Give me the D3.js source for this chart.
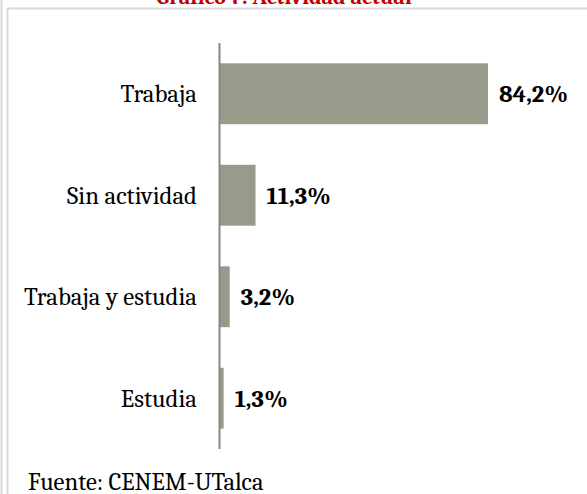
<!DOCTYPE html>
<html>
<head>
<meta charset="utf-8">
<script src="https://cdn.jsdelivr.net/npm/d3@7"></script>
<style>
  body { margin: 0; background: #fff; }
  svg { display: block; }
</style>
</head>
<body>
<div id="chart"></div>
<script>
// data
const categories = ["Trabaja", "Sin actividad", "Trabaja y estudia", "Estudia"];
const values = [84.2, 11.3, 3.2, 1.3];
const valueLabels = ["84,2%", "11,3%", "3,2%", "1,3%"];

const WIDTH = 587, HEIGHT = 494;
const SERIF = "Cambria, Caladea, 'DejaVu Serif', serif";

const svg = d3.select("#chart")
              .append("svg")
                .attr("width", WIDTH)
                .attr("height", HEIGHT);

// frame lines (document borders)
svg.append("line").attr("x1", 1.5).attr("x2", 1.5).attr("y1", 0).attr("y2", HEIGHT)
   .attr("stroke", "#d9d9d9").attr("stroke-width", 2);
svg.append("line").attr("x1", 7.5).attr("x2", 7.5).attr("y1", 8).attr("y2", HEIGHT)
   .attr("stroke", "#d9d9d9").attr("stroke-width", 2);
svg.append("line").attr("x1", 7).attr("x2", WIDTH).attr("y1", 8.5).attr("y2", 8.5)
   .attr("stroke", "#d9d9d9").attr("stroke-width", 2);

// title (cut off at the top, as in the reference)
svg.append("text")
   .attr("x", 284).attr("y", 4)
   .attr("text-anchor", "middle")
   .style("font-family", SERIF)
   .style("font-weight", "bold")
   .style("font-size", "22px")
   .style("fill", "#c00000")
   .text("Gráfico 7: Actividad actual");

// scales
const x = d3.scaleLinear()
            .domain([0, 100])
            .range([219.5, 538.4]);

const y = d3.scaleBand()
            .domain(categories)
            .range([43, 449])
            .paddingInner(0.4)
            .paddingOuter(0.2);

// bars
svg.selectAll("rect.bar")
   .data(values)
   .join("rect")
   .attr("class", "bar")
   .attr("x", x(0))
   .attr("y", (d, i) => y(categories[i]))
   .attr("width", d => x(d) - x(0))
   .attr("height", y.bandwidth())
   .attr("fill", "#9a9a8b");

// y axis line
svg.append("line")
   .attr("x1", x(0)).attr("x2", x(0))
   .attr("y1", 43).attr("y2", 449)
   .attr("stroke", "#878787")
   .attr("stroke-width", 2);

// category labels
svg.selectAll("text.cat")
   .data(categories)
   .join("text")
   .attr("class", "cat")
   .attr("x", 197)
   .attr("y", d => y(d) + y.bandwidth() / 2)
   .attr("dy", "0.35em")
   .attr("text-anchor", "end")
   .style("font-family", SERIF)
   .style("font-size", "24.8px")
   .style("fill", "#000")
   .text(d => d);

// value labels
svg.selectAll("text.val")
   .data(values)
   .join("text")
   .attr("class", "val")
   .attr("x", d => x(d) + 11)
   .attr("y", (d, i) => y(categories[i]) + y.bandwidth() / 2)
   .attr("dy", "0.35em")
   .style("font-family", SERIF)
   .style("font-weight", "bold")
   .style("font-size", "24.5px")
   .style("fill", "#000")
   .text((d, i) => valueLabels[i]);

// source
svg.append("text")
   .attr("x", 28).attr("y", 490)
   .style("font-family", SERIF)
   .style("font-size", "24.6px")
   .style("fill", "#000")
   .text("Fuente: CENEM-UTalca");
</script>
</body>
</html>
